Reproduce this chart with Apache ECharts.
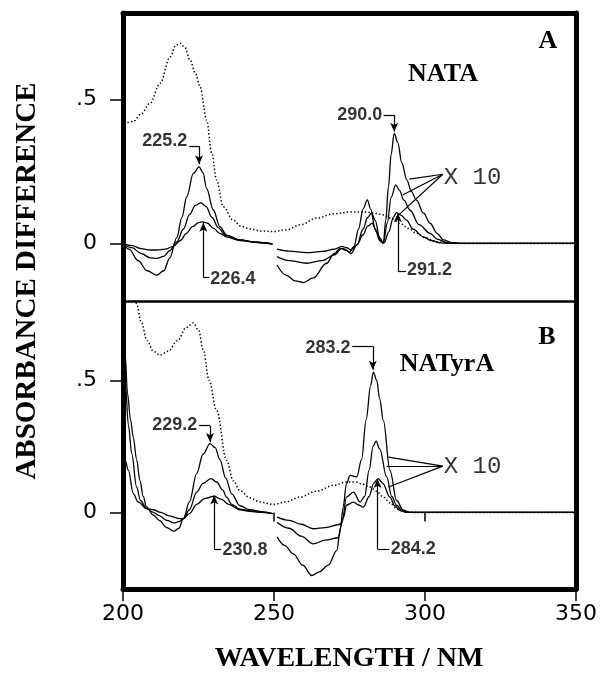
<!DOCTYPE html>
<html><head><meta charset="utf-8">
<script src="https://cdn.jsdelivr.net/npm/echarts@6/dist/echarts.min.js"></script>
<style>html,body{margin:0;padding:0;background:#fff}#c{width:608px;height:679px}</style>
</head><body><div id="c"></div>
<script>
// ---------- axis ticks ----------
const X_MIN = 200, X_MAX = 350, X_STEP = 50;
const Y_TICKS = [0, 0.5];
const Y_TICK_LABELS = ['0', '.5'];
const B_TOP_TICKS = [250, 300];

// ---------- Panel A (NATA) ----------
const A_DOTTED = [[200.3,0.417],[203.4,0.423],[206,0.45],[208.9,0.486],[212.3,0.556],[215.6,0.648],[217.5,0.688],[218.9,0.695],[220.5,0.68],[222.2,0.637],[224,0.59],[225.5,0.544],[227.7,0.428],[229.4,0.313],[231,0.22],[233.2,0.127],[236.5,0.081],[239,0.06],[242,0.05],[246,0.043],[249.8,0.041],[254,0.047],[259,0.065],[264.1,0.088],[270,0.103],[275.2,0.109],[280,0.109],[284,0.104],[286.2,0.099],[289,0.086],[291.7,0.07],[294.5,0.052],[297.2,0.035],[300,0.02],[303.9,0.006],[307,0.002],[311,0],[350,0]];
const A_LARGE_L = [[200,0],[202,-0.02],[205,-0.06],[208,-0.095],[211.2,-0.11],[213.5,-0.095],[215.5,-0.05],[217.8,0.02],[219.5,0.09],[221.1,0.162],[223.3,0.243],[225.2,0.266],[226.5,0.245],[227.7,0.19],[229.9,0.116],[232.1,0.058],[234.3,0.029],[238.7,0.012],[244,0.004],[249.5,-0.002]];
const A_MED_L = [[200,0],[203,-0.015],[206,-0.035],[209,-0.05],[211.2,-0.052],[213.5,-0.045],[215.5,-0.025],[217.8,0.005],[220,0.05],[222,0.1],[224,0.132],[225.8,0.141],[227.5,0.128],[229.5,0.09],[231.5,0.055],[234,0.028],[238.7,0.012],[244,0.004],[249.5,-0.002]];
const A_SMALL_L = [[200,0],[203,-0.008],[206,-0.018],[209,-0.023],[211.2,-0.023],[214,-0.02],[216.7,-0.01],[219,0.01],[221,0.035],[223,0.058],[225,0.072],[226.4,0.075],[228,0.07],[230,0.052],[232,0.035],[234.5,0.022],[238.7,0.01],[244,0.004],[249.5,-0.002]];
const A_LARGE_R = [[251,-0.075],[254,-0.11],[257,-0.13],[259.7,-0.136],[263,-0.12],[267.4,-0.069],[270,-0.035],[271.9,-0.017],[273.5,-0.02],[275,-0.03],[276.5,-0.01],[278,0.05],[279.5,0.12],[280.9,0.151],[282,0.12],[283.5,0.05],[285,0.01],[286.2,0],[287,0.08],[287.9,0.197],[288.8,0.31],[289.8,0.382],[291,0.35],[292.3,0.28],[294,0.22],[295.5,0.18],[297.2,0.15],[299.5,0.105],[301.7,0.07],[304,0.035],[306.1,0.012],[309,0.003],[312,0],[350,0]];
const A_MED_R = [[251,-0.046],[255,-0.06],[260.8,-0.069],[266,-0.06],[270,-0.04],[272.3,-0.018],[274,-0.025],[275.5,-0.035],[277.5,-0.005],[279.5,0.05],[281,0.09],[282.3,0.105],[283.5,0.08],[285,0.02],[286.2,0],[287.5,0.07],[288.8,0.16],[290.3,0.203],[291.5,0.185],[293,0.15],[295,0.116],[298,0.065],[301.7,0.035],[304,0.015],[307,0.004],[310,0],[350,0]];
const A_SMALL_R = [[251,-0.02],[255,-0.027],[260.8,-0.032],[266,-0.028],[270,-0.02],[272.5,-0.01],[274,-0.015],[275.5,-0.022],[277.5,-0.005],[279.5,0.03],[281,0.06],[282.5,0.07],[284,0.04],[285.5,0.005],[286.5,0.002],[288,0.04],[289.5,0.09],[290.5,0.107],[292,0.098],[293.9,0.081],[296,0.05],[299.4,0.023],[302,0.01],[305,0.002],[308,0],[350,0]];

// ---------- Panel B (NATyrA) ----------
const B_DOTTED = [[203,0.86],[204.5,0.79],[206,0.72],[208,0.65],[210,0.61],[212.3,0.595],[215,0.61],[218,0.65],[221,0.7],[223.3,0.717],[225,0.69],[226.6,0.614],[228.5,0.5],[231,0.386],[234.3,0.197],[236.5,0.12],[238.7,0.083],[242,0.055],[245.4,0.039],[249.8,0.03],[254,0.04],[258.6,0.058],[264,0.08],[270,0.103],[274,0.115],[277,0.115],[279,0.108],[281.8,0.096],[284,0.08],[286.2,0.058],[288.5,0.035],[290.6,0.014],[293,0.002],[296,0],[350,0]];
const B_LARGE_L = [[200,0.85],[200.7,0.6],[201.5,0.45],[202.5,0.35],[203.4,0.285],[204.5,0.2],[205.6,0.121],[206.7,0.06],[207.8,0.02],[210,-0.01],[212,-0.03],[214.5,-0.058],[216.9,-0.071],[218.5,-0.06],[220,-0.024],[222,0.04],[224.4,0.147],[226.5,0.22],[228.8,0.26],[230.5,0.245],[232.1,0.2],[234,0.13],[236,0.07],[238.7,0.025],[242,0.01],[246,0.003],[249.5,-0.005]];
const B_MED_L = [[200,0.6],[200.7,0.5],[201.8,0.33],[202.9,0.222],[204.5,0.096],[205.8,0.045],[207.8,0.015],[210,0],[212,-0.012],[214.5,-0.03],[216.9,-0.04],[218.5,-0.035],[220,-0.024],[222,0.01],[224.4,0.077],[226.5,0.11],[229.1,0.128],[231,0.115],[233,0.085],[234.3,0.058],[236,0.03],[238.7,0.012],[242,0.006],[246,0],[249.5,-0.005]];
const B_SMALL_L = [[200,0.22],[200.7,0.197],[201.8,0.159],[203.4,0.071],[205,0.04],[207.8,0.014],[210,0.01],[212.5,0],[215,-0.012],[218.9,-0.024],[220,-0.024],[222,-0.005],[224.4,0.03],[227,0.052],[230.2,0.061],[232.5,0.05],[235,0.03],[238.7,0.01],[242,0.004],[246,0],[249.5,-0.005]];
const B_LARGE_R = [[251,-0.093],[253.5,-0.125],[256.4,-0.157],[259.5,-0.2],[262.5,-0.239],[265,-0.225],[268,-0.2],[270.8,-0.144],[272,-0.06],[272.9,0.02],[274,0.109],[275.2,0.14],[277.4,0.134],[279,0.2],[280.5,0.35],[282,0.48],[282.9,0.531],[284,0.5],[285,0.43],[286.2,0.348],[288.4,0.159],[290.6,0.045],[292.8,0.008],[295,0],[350,0]];
const B_MED_R = [[251,-0.037],[255,-0.06],[259,-0.09],[263,-0.119],[267,-0.105],[271.3,-0.096],[272.5,-0.04],[274,0.058],[276.3,0.077],[278.5,0.039],[280,0.06],[281.5,0.16],[282.8,0.25],[283.8,0.27],[285,0.24],[287.3,0.134],[289,0.06],[290.6,0.027],[292.5,0.006],[294,0],[350,0]];
const B_SMALL_R = [[251,-0.018],[255,-0.03],[259,-0.045],[263,-0.062],[267,-0.058],[271.9,-0.045],[273,-0.02],[274,0.027],[276.3,0.039],[278,0.028],[279.6,0.02],[281.5,0.06],[283,0.11],[284.5,0.128],[286,0.11],[288.4,0.058],[290,0.025],[291.7,0.008],[294,0],[350,0]];

// ---------- annotations (data coordinates) ----------
const A_NOTES = [
  {text:'225.2', at:[221.6,0.357], side:'left'},
  {text:'226.4', at:[228.6,-0.122], side:'right'},
  {text:'290.0', at:[286.2,0.444], side:'left'},
  {text:'291.2', at:[293.7,-0.094], side:'right'},
  {text:'X 10', at:[305.9,0.229], side:'right', mono:true}
];
const A_LEADERS = [
  {pts:[[221.9,0.338],[225.2,0.338],[225.2,0.275]], arrow:true},
  {pts:[[228.6,-0.117],[226.6,-0.117],[226.6,0.072]], arrow:true},
  {pts:[[286.3,0.446],[289.8,0.446],[289.8,0.388]], arrow:true},
  {pts:[[293.7,-0.097],[291.0,-0.097],[291.0,0.105]], arrow:true},
  {pts:[[305.9,0.24],[294.8,0.223]], arrow:false},
  {pts:[[305.9,0.24],[292.6,0.168]], arrow:false},
  {pts:[[305.9,0.24],[290.6,0.092]], arrow:false}
];
const B_NOTES = [
  {text:'283.2', at:[275.7,0.623], side:'left'},
  {text:'284.2', at:[288.3,-0.138], side:'right'},
  {text:'229.2', at:[224.9,0.33], side:'left'},
  {text:'230.8', at:[232.6,-0.144], side:'right'},
  {text:'X 10', at:[305.9,0.172], side:'right', mono:true}
];
const B_LEADERS = [
  {pts:[[275.9,0.629],[282.7,0.629],[282.7,0.54]], arrow:true},
  {pts:[[288.2,-0.138],[284.3,-0.138],[284.3,0.126]], arrow:true},
  {pts:[[225.2,0.328],[228.8,0.328],[228.8,0.266]], arrow:true},
  {pts:[[232.5,-0.138],[230.2,-0.138],[230.2,0.064]], arrow:true},
  {pts:[[305.9,0.175],[287.9,0.209]], arrow:false},
  {pts:[[305.9,0.175],[287.3,0.175]], arrow:false},
  {pts:[[305.9,0.175],[287.9,0.096]], arrow:false}
];

const chart = echarts.init(document.getElementById('c'), null, {renderer:'canvas'});
const BLACK = '#000';
const SERIF = '"Liberation Serif","Times New Roman",serif';

function curve(data, panel, dotted) {
  return {
    type:'line', data, xAxisIndex: panel === 0 ? 0 : 3, yAxisIndex: panel === 0 ? 0 : 2,
    smooth:0.35, smoothMonotone:'x', symbol:'none', silent:true, animation:false,
    lineStyle:{color:BLACK, width: dotted ? 1.5 : 1.3, type: dotted ? [1.4,2.2] : 'solid'},
    z: dotted ? 2 : 3
  };
}
function notes(list, leaders, panel) {
  const segs = [];
  leaders.forEach(l => {
    for (let i = 0; i < l.pts.length - 1; i++) {
      const last = l.arrow && i === l.pts.length - 2;
      segs.push([{coord:l.pts[i], symbol:'none'}, {coord:l.pts[i+1], symbol: last ? 'arrow' : 'none', symbolSize: last ? [6,9] : 0}]);
    }
  });
  return {
    type:'scatter', xAxisIndex: panel === 0 ? 0 : 3, yAxisIndex: panel === 0 ? 0 : 2,
    symbolSize:0, silent:true, animation:false, z:5,
    data: list.map(n => ({value:n.at, label:{show:true, formatter:n.text, position:n.side, distance:1,
      color:BLACK, fontFamily: n.mono ? '"Liberation Mono","Courier New",monospace' : '"Liberation Sans",Arial,sans-serif',
      fontWeight: n.mono ? 'normal' : 'bold', fontSize: n.mono ? 24 : 18}})),
    markLine:{silent:true, animation:false, symbol:'none', label:{show:false},
      lineStyle:{color:BLACK, width:1.2, type:'solid'}, emphasis:{disabled:true}, data:segs}
  };
}

const frameLine = w => ({show:true, onZero:false, lineStyle:{color:BLACK, width:w}});
const yLabel = {show:true, customValues:Y_TICKS, margin:26, color:BLACK, fontSize:22,
  fontFamily:'"DejaVu Sans",sans-serif', formatter: v => Y_TICK_LABELS[Y_TICKS.indexOf(v)] ?? ''};
const yTick = {show:true, customValues:Y_TICKS, length:13, lineStyle:{color:BLACK, width:1.5}};

chart.setOption({
  animation:false,
  backgroundColor:'#fff',
  grid:[
    {left:123, right:32, top:13, height:288},
    {left:123, right:32, top:301, height:288}
  ],
  xAxis:[
    {type:'value', gridIndex:0, position:'bottom', min:X_MIN, max:X_MAX, interval:X_STEP,
     axisLine:frameLine(2.5), axisTick:{show:false}, axisLabel:{show:false}, splitLine:{show:false}},
    {type:'value', gridIndex:0, position:'top', min:X_MIN, max:X_MAX, interval:X_STEP,
     axisLine:frameLine(5), axisTick:{show:false}, axisLabel:{show:false}, splitLine:{show:false}},
    {type:'value', gridIndex:1, position:'top', min:X_MIN, max:X_MAX, interval:X_STEP,
     axisLine:{show:false}, axisTick:{show:true, inside:true, customValues:B_TOP_TICKS, length:9, lineStyle:{color:BLACK, width:1.5}},
     axisLabel:{show:false}, splitLine:{show:false}},
    {type:'value', gridIndex:1, position:'bottom', min:X_MIN, max:X_MAX, interval:X_STEP,
     axisLine:frameLine(5), axisTick:{show:true, length:12, lineStyle:{color:BLACK, width:1.5}},
     axisLabel:{show:true, margin:14, color:BLACK, fontSize:22, fontFamily:'"DejaVu Sans",sans-serif'},
     splitLine:{show:false}}
  ],
  yAxis:[
    {type:'value', gridIndex:0, position:'left', min:-0.2, max:0.8,
     axisLine:frameLine(5), axisTick:yTick, axisLabel:yLabel, splitLine:{show:false}},
    {type:'value', gridIndex:0, position:'right', min:-0.2, max:0.8,
     axisLine:frameLine(5), axisTick:{show:false}, axisLabel:{show:false}, splitLine:{show:false}},
    {type:'value', gridIndex:1, position:'left', min:-0.29, max:0.8,
     axisLine:frameLine(5), axisTick:yTick, axisLabel:yLabel, splitLine:{show:false}},
    {type:'value', gridIndex:1, position:'right', min:-0.29, max:0.8,
     axisLine:frameLine(5), axisTick:{show:false}, axisLabel:{show:false}, splitLine:{show:false}}
  ],
  graphic:[
    {type:'text', x:28, y:281, rotation:Math.PI/2, style:{text:'ABSORBANCE DIFFERENCE', font:'bold 29px ' + SERIF, fill:BLACK, align:'center', verticalAlign:'middle'}},
    {type:'text', x:349, y:659, style:{text:'WAVELENGTH / NM', font:'bold 28px ' + SERIF, fill:BLACK, align:'center', verticalAlign:'middle'}},
    {type:'text', x:548, y:41, style:{text:'A', font:'bold 26px ' + SERIF, fill:BLACK, align:'center', verticalAlign:'middle'}},
    {type:'text', x:443, y:74, style:{text:'NATA', font:'bold 26px ' + SERIF, fill:BLACK, align:'center', verticalAlign:'middle'}},
    {type:'text', x:547, y:337, style:{text:'B', font:'bold 26px ' + SERIF, fill:BLACK, align:'center', verticalAlign:'middle'}},
    {type:'text', x:447, y:364, style:{text:'NATyrA', font:'bold 26px ' + SERIF, fill:BLACK, align:'center', verticalAlign:'middle'}}
  ],
  series:[
    curve(A_DOTTED,0,true),
    curve(A_LARGE_L,0), curve(A_MED_L,0), curve(A_SMALL_L,0),
    curve(A_LARGE_R,0), curve(A_MED_R,0), curve(A_SMALL_R,0),
    curve(B_DOTTED,1,true),
    curve(B_LARGE_L,1), curve(B_MED_L,1), curve(B_SMALL_L,1),
    curve(B_LARGE_R,1), curve(B_MED_R,1), curve(B_SMALL_R,1),
    notes(A_NOTES, A_LEADERS, 0),
    notes(B_NOTES, B_LEADERS, 1)
  ]
});
</script></body></html>
